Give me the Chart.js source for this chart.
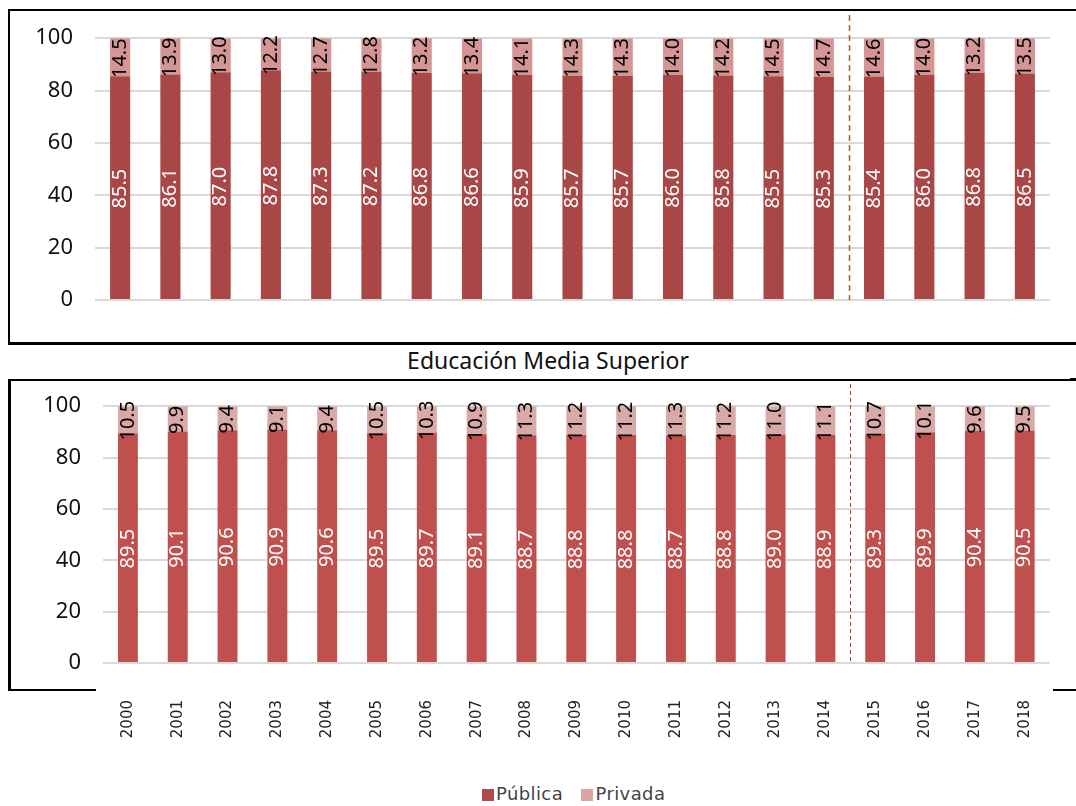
<!DOCTYPE html>
<html>
<head>
<meta charset="utf-8">
<script src="https://cdn.jsdelivr.net/npm/chart.js@4"></script>
<style>
  body { margin: 0; background: #fff; width: 1076px; height: 806px; position: relative; overflow: hidden; font-family: "Noto Sans", sans-serif; }
  .line { position: absolute; background: #000; }
  canvas { position: absolute; }
  #title { position: absolute; left: 0; width: 1096px; top: 344px; text-align: center; font-size: 23px; color: #111; }
  #legend { position: absolute; top: 783px; left: 482px; font-family: "DejaVu Sans", sans-serif; font-size: 18px; color: #444; letter-spacing: 0.4px; white-space: nowrap; }
  #legend span.sq { display: inline-block; width: 12px; height: 12px; vertical-align: -1px; margin-right: 2px; }
</style>
</head>
<body>
<!-- top frame -->
<div class="line" style="left:8px;top:9px;width:1068px;height:2px"></div>
<div class="line" style="left:8px;top:9px;width:2px;height:336px"></div>
<div class="line" style="left:8px;top:342px;width:1068px;height:3px"></div>
<!-- bottom frame -->
<div class="line" style="left:8px;top:379px;width:1062px;height:2px"></div>
<div class="line" style="left:1070px;top:378px;width:6px;height:3px"></div>
<div class="line" style="left:8px;top:379px;width:3px;height:312px"></div>
<div class="line" style="left:8px;top:689px;width:88px;height:2px"></div>
<div class="line" style="left:1053px;top:689px;width:23px;height:2px"></div>

<div id="title">Educación Media Superior</div>
<canvas id="top" width="1060" height="337" style="left:12px;top:3px"></canvas>
<canvas id="bottom" width="1060" height="369" style="left:12px;top:371px"></canvas>

<div id="legend"><span class="sq" style="background:#b04c4c"></span>Pública&nbsp;&nbsp;&nbsp;<span class="sq" style="background:#dba5a4"></span>Privada</div>

<script>
const years = ['2000','2001','2002','2003','2004','2005','2006','2007','2008','2009','2010','2011','2012','2013','2014','2015','2016','2017','2018'];
const yTicks = [0, 20, 40, 60, 80, 100];

const topPublica = [85.5, 86.1, 87.0, 87.8, 87.3, 87.2, 86.8, 86.6, 85.9, 85.7, 85.7, 86.0, 85.8, 85.5, 85.3, 85.4, 86.0, 86.8, 86.5];
const topPrivada = [14.5, 13.9, 13.0, 12.2, 12.7, 12.8, 13.2, 13.4, 14.1, 14.3, 14.3, 14.0, 14.2, 14.5, 14.7, 14.6, 14.0, 13.2, 13.5];

const emsPublica = [89.5, 90.1, 90.6, 90.9, 90.6, 89.5, 89.7, 89.1, 88.7, 88.8, 88.8, 88.7, 88.8, 89.0, 88.9, 89.3, 89.9, 90.4, 90.5];
const emsPrivada = [10.5, 9.9, 9.4, 9.1, 9.4, 10.5, 10.3, 10.9, 11.3, 11.2, 11.2, 11.3, 11.2, 11.0, 11.1, 10.7, 10.1, 9.6, 9.5];

// split marker between 2014 and 2015
const splitAfter = '2014';

// rotated value labels centred in each segment
const barLabels = {
  id: 'barLabels',
  afterDatasetsDraw(chart) {
    const ctx = chart.ctx;
    ctx.save();
    ctx.font = '20px "Noto Sans"';
    ctx.textAlign = 'center';
    ctx.textBaseline = 'middle';
    chart.data.datasets.forEach((ds, i) => {
      const meta = chart.getDatasetMeta(i);
      ctx.fillStyle = ds.labelColor;
      meta.data.forEach((bar, j) => {
        const { x, y, base } = bar.getProps(['x', 'y', 'base'], true);
        ctx.save();
        ctx.translate(x, (y + base) / 2 + 1);
        ctx.rotate(-Math.PI / 2);
        ctx.fillText(ds.data[j].toFixed(1), 0, 0);
        ctx.restore();
      });
    });
    ctx.restore();
  }
};

const splitLine = {
  id: 'splitLine',
  afterDatasetsDraw(chart, args, opts) {
    const xs = chart.scales.x;
    const i = years.indexOf(splitAfter);
    const px = Math.round((xs.getPixelForValue(i) + xs.getPixelForValue(i + 1)) / 2) + 0.5;
    const ctx = chart.ctx;
    ctx.save();
    ctx.strokeStyle = opts.color;
    ctx.lineWidth = opts.width;
    ctx.setLineDash(opts.dash);
    ctx.beginPath();
    ctx.moveTo(px, opts.top);
    ctx.lineTo(px, chart.chartArea.bottom);
    ctx.stroke();
    ctx.restore();
  }
};

function makeChart(id, pub, priv, colors, cfg) {
  return new Chart(document.getElementById(id), {
    type: 'bar',
    data: {
      labels: years,
      datasets: [
        { label: 'Pública', data: pub, backgroundColor: colors[0], labelColor: '#ffffff' },
        { label: 'Privada', data: priv, backgroundColor: colors[1], labelColor: '#000000' }
      ]
    },
    options: {
      responsive: false,
      animation: false,
      categoryPercentage: 0.8,
      barPercentage: 0.5,
      layout: { padding: cfg.padding },
      plugins: {
        legend: { display: false },
        tooltip: { enabled: false },
        splitLine: cfg.split
      },
      scales: {
        x: {
          stacked: true,
          display: cfg.showX,
          grid: { display: false },
          border: { display: false },
          ticks: {
            minRotation: 90, maxRotation: 90, padding: 29,
            color: '#222',
            font: { family: 'DejaVu Sans', size: 15 }
          },
          afterFit(s) { if (cfg.xHeight) s.height = cfg.xHeight; }
        },
        y: {
          stacked: true,
          min: 0, max: 100,
          afterBuildTicks(s) { s.ticks = yTicks.map(v => ({ value: v })); },
          grid: { color: '#d9d9d9', lineWidth: 2, drawTicks: false },
          border: { display: false },
          ticks: {
            padding: cfg.tickPad,
            color: '#111',
            font: { family: 'Noto Sans', size: 22 }
          },
          afterFit(s) { s.width = cfg.yWidth; }
        }
      }
    },
    plugins: [barLabels, splitLine]
  });
}

makeChart('top', topPublica, topPrivada, ['#a94747', '#d49594'], {
  padding: { left: 0, top: 0, right: 22, bottom: 40 },
  yWidth: 83, tickPad: 22, showX: false,
  split: { color: '#a8602e', width: 1.5, dash: [6, 4], top: 12 }
});

makeChart('bottom', emsPublica, emsPrivada, ['#c0504d', '#d9a9a8'], {
  padding: { left: 0, top: 0, right: 12, bottom: 0 },
  yWidth: 91, tickPad: 22, showX: true, xHeight: 77,
  split: { color: '#9a4a22', width: 1, dash: [4, 3], top: 13 }
});
</script>
</body>
</html>
